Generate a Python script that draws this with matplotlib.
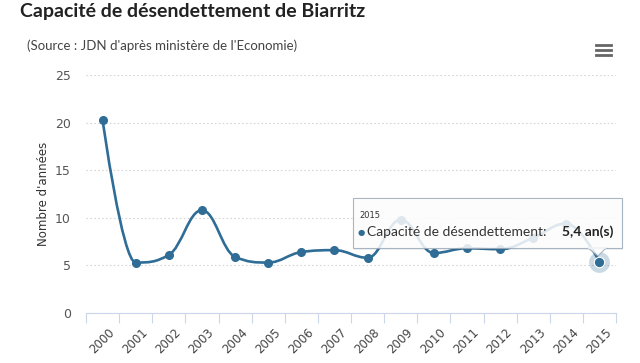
import numpy as np
import matplotlib
matplotlib.use("Agg")
import matplotlib.pyplot as plt
from matplotlib.path import Path
from matplotlib.patches import PathPatch, Rectangle, Polygon

years = ["2000", "2001", "2002", "2003", "2004", "2005", "2006", "2007",
         "2008", "2009", "2010", "2011", "2012", "2013", "2014", "2015"]
capacite = [20.3, 5.3, 6.1, 10.8, 5.9, 5.3, 6.4, 6.6,
            5.8, 9.8, 6.3, 6.8, 6.7, 7.9, 9.4, 5.4]

blue = "#2f6d96"
W, H = 640, 363


def spline_path(xs, ys, smoothing=1.5):
    # courbe lissée façon Highcharts
    n = len(xs)
    left = [(xs[i], ys[i]) for i in range(n)]
    right = [(xs[i], ys[i]) for i in range(n)]
    denom = smoothing + 1
    for i in range(1, n - 1):
        px, py = xs[i], ys[i]
        lx, ly = xs[i - 1], ys[i - 1]
        nx, ny = xs[i + 1], ys[i + 1]
        lcx = (smoothing * px + lx) / denom
        lcy = (smoothing * py + ly) / denom
        rcx = (smoothing * px + nx) / denom
        rcy = (smoothing * py + ny) / denom
        corr = (rcy - lcy) * (rcx - px) / (rcx - lcx) + py - rcy
        lcy += corr
        rcy += corr
        if lcy > ly and lcy > py:
            lcy = max(ly, py); rcy = 2 * py - lcy
        elif lcy < ly and lcy < py:
            lcy = min(ly, py); rcy = 2 * py - lcy
        if rcy > ny and rcy > py:
            rcy = max(ny, py); lcy = 2 * py - rcy
        elif rcy < ny and rcy < py:
            rcy = min(ny, py); lcy = 2 * py - rcy
        left[i] = (lcx, lcy)
        right[i] = (rcx, rcy)
    verts = [(xs[0], ys[0])]
    codes = [Path.MOVETO]
    for i in range(1, n):
        verts += [right[i - 1], left[i], (xs[i], ys[i])]
        codes += [Path.CURVE4] * 3
    return Path(verts, codes)


fig = plt.figure(figsize=(6.4, 3.63), dpi=100)
fig.patch.set_facecolor("white")
ax = fig.add_axes([86 / W, 1 - 313 / H, (616 - 86) / W, (313 - 75) / H])

x = np.arange(len(years))
ax.add_patch(PathPatch(spline_path(list(x), capacite), fill=False,
                       edgecolor=blue, lw=1.9, zorder=3))
ax.plot(x, capacite, "o", color=blue, ms=5.5, zorder=4)
# point survolé
ax.plot(x[-1], capacite[-1], "o", color=blue, alpha=0.25, ms=15, mew=0, zorder=4)
ax.plot(x[-1], capacite[-1], "o", color=blue, ms=7.5, mec="white", mew=0.8, zorder=5)

ax.set_xlim(-0.5, len(years) - 0.5)
ax.set_ylim(0, 25)
ax.set_yticks([0, 5, 10, 15, 20, 25])
ax.grid(axis="y", color="#d6d6d6", ls=(0, (1.5, 2)), lw=0.8)
ax.set_axisbelow(True)
for s in ["top", "right", "left"]:
    ax.spines[s].set_visible(False)
ax.spines["bottom"].set_color("#ccd6eb")
ax.tick_params(axis="y", length=0, labelsize=9, labelcolor="#555555", pad=11)
ax.set_xticks(np.arange(-0.5, len(years)), minor=False)
ax.set_xticklabels([])
ax.tick_params(axis="x", length=7, color="#ccd6eb", width=0.8)
for i, yr in enumerate(years):
    ax.annotate(yr, (i, 0), xytext=(4, -9), textcoords="offset points",
                rotation=45, ha="right", va="top", rotation_mode="anchor",
                fontsize=8.5, color="#444444", annotation_clip=False)
ax.set_ylabel("Nombre d'années", fontsize=8.5, color="#333333")
ax.yaxis.set_label_coords(-0.068, 0.5)

fig.text(20 / W, 1 - 12 / H, "Capacité de désendettement de Biarritz",
         fontsize=14, fontweight="bold", color="#222222", family="Lato",
         va="center")
fig.text(27 / W, 1 - 46 / H, "(Source : JDN d'après ministère de l'Economie)",
         fontsize=9.5, color="#444444", family="Lato", va="center")

# menu
for yy in [45, 50, 55]:
    fig.add_artist(plt.Line2D([596 / W, 611 / W], [1 - yy / H] * 2,
                              color="#666666", lw=2))

# tooltip
x0, x1, y0, y1 = 353, 622, 198, 248
fig.add_artist(Rectangle((x0 / W + 0.002, 1 - (y1 + 2) / H), (x1 - x0) / W,
                         (y1 - y0) / H, facecolor="#000000", alpha=0.06,
                         transform=fig.transFigure, zorder=9))
fig.add_artist(Rectangle((x0 / W, 1 - y1 / H), (x1 - x0) / W, (y1 - y0) / H,
                         facecolor="white", alpha=0.85, edgecolor="#9aa9b8",
                         lw=0.8, transform=fig.transFigure, zorder=10))
fig.add_artist(Polygon([(588 / W, 1 - 248 / H), (606 / W, 1 - 248 / H),
                        (598 / W, 1 - 256 / H)], closed=True,
                       facecolor="white", alpha=0.85, edgecolor="#9aa9b8",
                       lw=0.8, transform=fig.transFigure, zorder=10))
fig.add_artist(plt.Line2D([589 / W, 605 / W], [1 - 248 / H] * 2,
                          color="white", lw=1.2, alpha=0.9, zorder=11))
fig.text(359 / W, 1 - 215 / H, years[-1], fontsize=6, color="#333333",
         va="center", zorder=12)
fig.text(358 / W, 1 - 232 / H, "●", fontsize=6, color=blue, va="center",
         zorder=12)
fig.text(367 / W, 1 - 232 / H, "Capacité de désendettement:", fontsize=10,
         color="#333333", va="center", zorder=12, family="Lato")
fig.text(613 / W, 1 - 232 / H, "5,4 an(s)", fontsize=10, color="#222222",
         va="center", ha="right", fontweight="bold", zorder=12, family="Lato")

fig.savefig("out.png", dpi=100, facecolor="white")
